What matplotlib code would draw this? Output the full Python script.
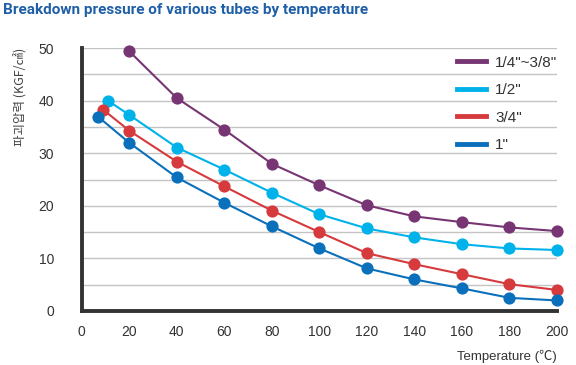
import matplotlib
matplotlib.use("Agg")
import matplotlib.pyplot as plt
from matplotlib.lines import Line2D

plt.rcParams["font.family"] = ["Liberation Sans Narrow", "Liberation Sans", "Noto Sans CJK KR", "DejaVu Sans"]

series_labels = ['1/4"~3/8"', '1/2"', '3/4"', '1"']
series_colors = ["#773573", "#00b2ea", "#d63a3d", "#0b70bb"]

temp_quarter = [20, 40, 60, 80, 100, 120, 140, 160, 180, 200]
pres_quarter = [49.4, 40.5, 34.5, 28.0, 23.9, 20.1, 18.0, 16.9, 15.9, 15.2]

temp_half = [11, 20, 40, 60, 80, 100, 120, 140, 160, 180, 200]
pres_half = [40.0, 37.3, 31.1, 26.9, 22.5, 18.4, 15.7, 14.0, 12.7, 11.9, 11.6]

temp_three = [9, 20, 40, 60, 80, 100, 120, 140, 160, 180, 200]
pres_three = [38.3, 34.3, 28.4, 23.7, 19.1, 15.0, 11.0, 8.9, 7.0, 5.1, 4.0]

temp_one = [7, 20, 40, 60, 80, 100, 120, 140, 160, 180, 200]
pres_one = [36.9, 32.0, 25.4, 20.6, 16.1, 11.9, 8.1, 6.0, 4.3, 2.5, 2.0]

x_ticks = list(range(0, 201, 20))
y_ticks = list(range(0, 51, 10))
grid_levels = list(range(5, 51, 5))

fig = plt.figure(figsize=(5.76, 3.65), dpi=100)
ax = fig.add_axes([0.142, 0.148, 0.825, 0.72])

for y in grid_levels:
    ax.axhline(y, color="#c4c4c4", linewidth=1.0, zorder=1)

data = [
    (temp_quarter, pres_quarter),
    (temp_half, pres_half),
    (temp_three, pres_three),
    (temp_one, pres_one),
]
for (xs, ys), color, label in zip(data, series_colors, series_labels):
    ax.plot(xs, ys, color=color, linewidth=1.5, marker="o", markersize=8.8,
            markeredgewidth=0, clip_on=False, zorder=3, label=label)

ax.set_xlim(0, 200)
ax.set_ylim(0, 50)
ax.set_xticks(x_ticks)
ax.set_yticks(y_ticks)
ax.tick_params(axis="both", length=0, labelsize=10, labelcolor="#333333")
ax.tick_params(axis="x", pad=10)
ax.tick_params(axis="y", pad=20)

for side in ("top", "right"):
    ax.spines[side].set_visible(False)
for side in ("left", "bottom"):
    ax.spines[side].set_color("#333333")
    ax.spines[side].set_linewidth(2.8)

ax.set_ylabel("파괴압력 (KGF/㎠)", loc="top", fontsize=9, color="#444444",
              labelpad=8, family=["Noto Sans CJK KR", "DejaVu Sans"])
ax.set_xlabel("Temperature (℃)", loc="right", fontsize=9.5, color="#333333",
              labelpad=8, family=["Liberation Sans Narrow", "Liberation Sans", "Noto Sans CJK KR", "DejaVu Sans"])

handles = [Line2D([0], [0], color=c, linewidth=3.5) for c in series_colors]
ax.legend(handles, series_labels, loc="upper left", bbox_to_anchor=(0.765, 1.015),
          frameon=False, fontsize=11, handlelength=1.9, handletextpad=0.6,
          labelspacing=0.88, borderaxespad=0.35, labelcolor="#333333")

fig.text(0.005, 0.992, "Breakdown pressure of various tubes by temperature",
         ha="left", va="top", fontsize=11, fontweight="bold", color="#1f5fa8",
         family=["Roboto", "DejaVu Sans"])

fig.savefig("out.png", dpi=100)
